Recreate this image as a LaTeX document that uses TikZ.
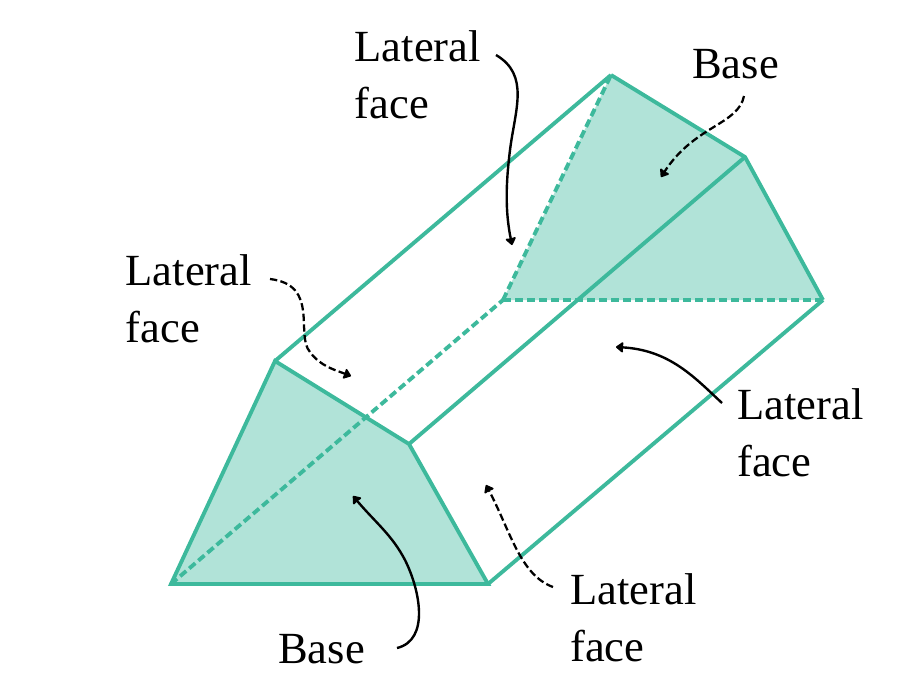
\documentclass[tikz,border=0pt]{standalone}
\usepackage{fontspec}
\setmainfont{Liberation Serif}
\usetikzlibrary{arrows.meta}
\definecolor{edgeteal}{HTML}{3DB99C}
\definecolor{fillteal}{HTML}{B1E3D8}
\tikzset{
  x=0.75pt,y=-0.75pt,
  facefill/.style={fill=fillteal,draw=none},
  solidedge/.style={draw=edgeteal,line width=2.9pt,line join=miter},
  hiddenedge/.style={draw=edgeteal,line width=2.9pt,dash pattern=on 6pt off 3pt},
  callout/.style={draw=black,line width=1.8pt,-{Stealth[length=6pt,width=9pt,inset=0.5pt,round]}},
  dashcallout/.style={callout,line width=1.7pt,dash pattern=on 5.5pt off 2.5pt},
  lbl/.style={font=\fontsize{33.4pt}{42.5pt}\selectfont,align=left,inner sep=0pt,anchor=north west,text=black},
}
\begin{document}
\begin{tikzpicture}
\useasboundingbox (0,0) rectangle (910,694);
\coordinate (A) at (171,584);
\coordinate (B) at (488,584);
\coordinate (C) at (409,444);
\coordinate (D) at (275,361);
\coordinate (E) at (503,300);
\coordinate (F) at (823,300);
\coordinate (G) at (745,157);
\coordinate (H) at (611,75);
\fill[facefill] (A)--(B)--(C)--(D)--cycle;
\fill[facefill] (E)--(F)--(G)--(H)--cycle;
\draw[hiddenedge] (A)--(E);
\draw[hiddenedge] (E)--(H);
\draw[hiddenedge] (E)--(F);
\draw[solidedge] (D)--(H);
\draw[solidedge] (C)--(G);
\draw[solidedge] (B)--(F);
\draw[solidedge] (H)--(G)--(F);
\draw[solidedge] (A)--(B)--(C)--(D)--cycle;
\node[lbl] (ltop) at (354.5,30.5) {Lateral\\face};
\node[lbl] (lleft) at (125.5,254.5) {Lateral\\face};
\node[lbl] (lright) at (737,388.5) {Lateral\\face};
\node[lbl] (lbot) at (570,573.5) {Lateral\\face};
\node[lbl] (btop) at (692,49.5) {Base};
\node[lbl] (bbot) at (278,634) {Base};
\coordinate (t1) at (496,55);
\coordinate (t2) at (512,245);
\coordinate (u1) at (744,96);
\coordinate (u2) at (661,177);
\coordinate (v1) at (270,279);
\coordinate (v2) at (351,376);
\coordinate (w1) at (397,648);
\coordinate (w2) at (353,496);
\coordinate (x1) at (722,403);
\coordinate (x2) at (616,347);
\coordinate (y1) at (553,587);
\coordinate (y2) at (486,485);
\draw[callout] (t1) .. controls (530,75) and (515,110) .. (510,150) .. controls (505,190) and (506,215) .. (t2);
\draw[dashcallout] (u1) .. controls (738,125) and (695,125) .. (u2);
\draw[dashcallout] (v1) .. controls (320,285) and (295,335) .. (310,352) .. controls (320,366) and (335,370) .. (v2);
\draw[callout] (w1) .. controls (430,640) and (420,590) .. (405,560) .. controls (392,535) and (375,522) .. (w2);
\draw[callout] (x1) .. controls (695,378) and (670,350) .. (x2);
\draw[dashcallout] (y1) .. controls (520,575) and (510,530) .. (y2);
\end{tikzpicture}
\end{document}
